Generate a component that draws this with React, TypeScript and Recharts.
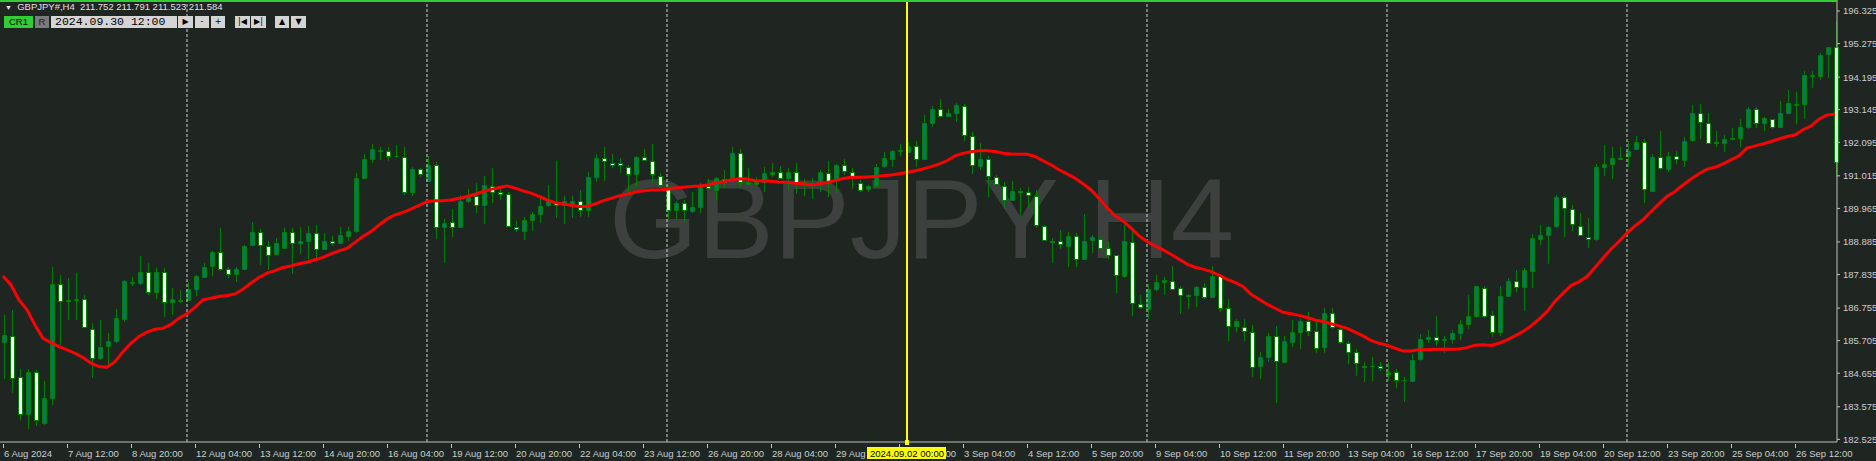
import React from "react";
import { ComposedChart, Bar, Line, XAxis, YAxis, ReferenceLine } from "recharts";

// GBPJPY H4, 6 Aug 2024 04:00 .. 27 Sep 2024 08:00
const tradingDays = [
  "6 Aug", "7 Aug", "8 Aug", "9 Aug", "12 Aug", "13 Aug", "14 Aug", "15 Aug", "16 Aug",
  "19 Aug", "20 Aug", "21 Aug", "22 Aug", "23 Aug", "26 Aug", "27 Aug", "28 Aug", "29 Aug", "30 Aug",
  "2 Sep", "3 Sep", "4 Sep", "5 Sep", "6 Sep", "9 Sep", "10 Sep", "11 Sep", "12 Sep", "13 Sep",
  "16 Sep", "17 Sep", "18 Sep", "19 Sep", "20 Sep", "23 Sep", "24 Sep", "25 Sep", "26 Sep", "27 Sep",
];
const barHours = ["00:00", "04:00", "08:00", "12:00", "16:00", "20:00"];

const open = [
  185.67, 185.87, 184.52, 183.34, 184.69, 183.04, 183.85, 187.54, 186.99, 187.02,
  187.04, 186.07, 185.14, 185.51, 185.68, 186.39, 187.59, 187.56, 187.91, 187.25,
  187.91, 186.93, 187.01, 187.02, 187.36, 187.77, 188.09, 188.55, 188.01, 187.84,
  188.01, 188.77, 189.2, 188.77, 188.49, 188.7, 189.2, 188.84, 188.9, 189.17,
  188.65, 188.92, 188.84, 189.09, 189.22, 190.94, 191.55, 191.82, 191.83, 191.64,
  191.62, 190.49, 191.23, 190.85, 191.35, 189.36, 189.52, 189.36, 190.19, 190.35,
  190.05, 190.69, 190.48, 190.42, 189.38, 189.24, 189.6, 189.78, 190.05, 190.15,
  190.07, 190.08, 190.19, 189.9, 190.97, 191.58, 191.44, 191.42, 191.31, 191.08,
  191.62, 191.48, 191.02, 190.62, 189.92, 190.13, 189.86, 190.03, 190.7, 190.56,
  190.92, 190.92, 191.74, 190.75, 190.75, 190.81, 191.1, 191.15, 190.97, 191.15,
  190.81, 190.72, 190.78, 191.12, 190.88, 191.35, 191.15, 190.8, 190.58, 190.69,
  191.31, 191.58, 191.82, 191.8, 191.99, 191.55, 192.71, 193.16, 192.93, 193.03,
  193.28, 192.31, 191.31, 191.55, 190.99, 190.7, 190.24, 190.54, 190.51, 190.38,
  189.41, 188.91, 188.9, 188.77, 189.09, 188.34, 188.93, 188.97, 188.68, 188.45,
  187.79, 188.87, 186.88, 186.72, 187.36, 187.59, 187.64, 187.39, 187.17, 187.16,
  187.43, 187.1, 187.79, 186.75, 186.18, 186.14, 186.0, 184.87, 185.17, 185.87,
  185.03, 185.65, 185.98, 186.34, 186.03, 185.51, 186.59, 186.07, 185.62, 185.33,
  184.9, 184.89, 184.9, 184.63, 184.69, 184.44, 184.42, 185.09, 185.75, 185.82,
  185.71, 185.75, 185.94, 186.23, 186.48, 187.39, 186.54, 185.98, 187.15, 187.63,
  187.43, 187.95, 188.97, 189.13, 189.38, 190.33, 189.95, 189.41, 189.06, 188.98,
  191.29, 191.39, 191.57, 191.67, 191.87, 192.09, 190.54, 191.62, 191.26, 191.64,
  191.55, 192.15, 193.03, 192.73, 192.11, 192.07, 192.2, 192.23, 192.58, 193.16,
  192.71, 192.84, 192.58, 193.03, 193.32, 193.33, 194.24, 194.24, 194.91, 195.15,
];
const high = [
  186.54, 186.7, 184.78, 184.78, 184.76, 184.42, 188.07, 187.82, 187.71, 187.88,
  187.16, 186.26, 186.37, 185.94, 186.72, 187.66, 187.74, 188.44, 188.22, 188.04,
  188.04, 187.39, 187.34, 187.61, 187.82, 188.22, 188.58, 189.33, 188.09, 188.09,
  188.79, 189.54, 189.3, 188.93, 189.01, 189.33, 189.33, 189.38, 189.4, 189.43,
  189.17, 189.08, 189.36, 189.38, 191.12, 191.71, 192.04, 191.96, 191.96, 192.01,
  191.93, 191.31, 191.28, 191.66, 191.45, 189.62, 189.94, 190.4, 190.58, 190.78,
  191.01, 191.26, 190.58, 190.48, 189.56, 189.7, 189.86, 190.35, 190.72, 191.5,
  190.35, 190.37, 190.56, 191.15, 191.71, 191.96, 191.71, 191.58, 191.37, 191.66,
  191.87, 192.03, 191.12, 190.72, 190.19, 190.24, 190.48, 190.8, 190.91, 190.99,
  191.21, 191.96, 191.88, 191.28, 190.99, 191.31, 191.42, 191.34, 191.28, 191.44,
  190.91, 190.94, 191.19, 191.5, 191.4, 191.55, 191.26, 190.88, 190.72, 191.4,
  191.77, 191.85, 192.03, 192.09, 192.15, 192.98, 193.27, 193.49, 193.16, 193.36,
  193.33, 192.42, 192.07, 191.64, 191.05, 190.83, 190.85, 190.62, 190.65, 190.56,
  189.44, 189.01, 189.27, 189.19, 189.17, 189.79, 189.11, 189.08, 188.87, 188.47,
  189.43, 189.3, 187.18, 187.53, 187.82, 187.77, 188.12, 187.45, 187.21, 187.45,
  187.56, 188.11, 187.86, 187.04, 186.39, 186.39, 186.21, 185.35, 185.94, 186.18,
  185.84, 186.37, 186.39, 186.64, 186.39, 186.75, 186.75, 186.1, 185.68, 185.44,
  185.03, 185.17, 185.03, 185.03, 184.78, 184.53, 185.27, 185.92, 186.05, 186.5,
  185.84, 186.05, 186.37, 187.18, 187.47, 187.45, 186.66, 187.45, 187.71, 187.99,
  188.04, 189.13, 189.43, 189.4, 190.4, 190.37, 190.06, 189.81, 189.65, 191.39,
  192.01, 191.96, 191.93, 192.14, 192.3, 192.19, 191.71, 192.46, 191.77, 191.83,
  192.26, 193.3, 193.33, 193.03, 192.46, 192.34, 192.55, 192.84, 193.23, 193.23,
  192.9, 192.86, 193.43, 193.78, 193.73, 194.38, 194.38, 194.97, 195.18, 195.99,
];
const low = [
  184.46, 184.02, 183.15, 182.85, 182.96, 182.99, 183.62, 185.57, 186.37, 186.37,
  186.1, 184.49, 185.09, 184.92, 185.64, 186.29, 187.45, 187.5, 187.18, 187.04,
  186.48, 186.54, 186.93, 186.97, 187.15, 187.74, 187.79, 187.96, 187.71, 187.58,
  187.98, 188.74, 188.15, 187.98, 188.47, 188.65, 187.86, 188.5, 188.33, 188.31,
  188.61, 188.74, 188.82, 188.9, 189.17, 190.91, 191.44, 191.51, 191.48, 191.58,
  190.4, 190.38, 190.99, 190.81, 188.97, 188.22, 189.04, 189.33, 190.15, 189.81,
  189.46, 190.15, 190.24, 189.38, 189.22, 188.95, 189.24, 189.51, 190.0, 189.65,
  189.47, 189.65, 189.7, 189.7, 190.83, 190.85, 191.28, 191.1, 190.46, 190.67,
  191.48, 190.78, 190.62, 189.62, 189.62, 189.52, 189.81, 189.83, 190.56, 190.24,
  190.62, 190.83, 190.67, 190.72, 190.69, 190.51, 190.99, 190.91, 190.56, 190.43,
  190.35, 190.26, 190.48, 190.33, 190.46, 191.05, 190.58, 190.48, 190.48, 190.67,
  191.26, 191.31, 191.64, 191.77, 191.31, 191.53, 192.58, 192.93, 192.9, 192.76,
  192.15, 191.07, 191.19, 190.33, 190.72, 189.94, 190.19, 189.7, 189.97, 189.33,
  188.93, 188.22, 188.65, 188.07, 188.09, 188.31, 188.54, 188.63, 188.33, 187.25,
  187.72, 186.51, 186.72, 186.4, 187.32, 187.18, 187.34, 186.56, 186.72, 186.8,
  187.04, 187.07, 186.64, 185.71, 185.99, 185.71, 184.53, 184.46, 185.03, 183.71,
  185.0, 185.49, 185.43, 185.84, 185.32, 185.3, 186.07, 185.6, 184.95, 184.57,
  184.36, 184.39, 184.74, 184.39, 184.17, 183.74, 184.39, 185.06, 185.64, 185.54,
  185.3, 185.6, 185.73, 186.07, 186.45, 186.45, 185.82, 185.86, 187.13, 187.28,
  186.67, 187.39, 188.79, 188.17, 189.35, 189.06, 189.25, 189.08, 188.68, 188.93,
  191.01, 190.91, 191.55, 191.31, 191.85, 190.13, 190.48, 191.19, 191.15, 191.4,
  191.31, 192.12, 192.2, 192.07, 191.96, 191.77, 192.17, 191.96, 192.52, 192.55,
  192.47, 192.52, 192.55, 193.0, 192.69, 192.85, 193.86, 194.09, 194.16, 190.99,
];
const close = [
  185.89, 184.53, 183.34, 184.69, 183.15, 183.85, 187.52, 186.99, 187.01, 187.04,
  186.13, 185.14, 185.51, 185.68, 186.43, 187.63, 187.61, 187.91, 187.25, 187.91,
  186.93, 187.04, 187.03, 187.36, 187.79, 188.09, 188.55, 188.01, 187.84, 188.01,
  188.74, 189.2, 188.77, 188.49, 188.84, 189.2, 188.84, 188.92, 189.17, 188.65,
  188.92, 188.87, 189.11, 189.24, 190.94, 191.55, 191.87, 191.86, 191.66, 191.65,
  190.49, 191.23, 191.08, 191.35, 189.36, 189.49, 189.36, 190.21, 190.32, 190.05,
  190.71, 190.51, 190.43, 189.4, 189.31, 189.6, 189.78, 190.03, 190.19, 190.07,
  190.19, 190.19, 189.9, 190.97, 191.58, 191.48, 191.39, 191.34, 191.08, 191.62,
  191.53, 191.05, 190.72, 189.92, 190.15, 189.89, 190.0, 190.67, 190.62, 190.94,
  190.81, 191.74, 190.81, 190.81, 190.83, 191.1, 191.15, 190.97, 191.15, 190.83,
  190.75, 190.78, 191.15, 190.81, 191.35, 191.17, 190.99, 190.58, 190.69, 191.31,
  191.58, 191.83, 191.84, 191.98, 191.58, 192.71, 193.16, 192.95, 193.03, 193.3,
  192.33, 191.37, 191.55, 190.99, 190.78, 190.24, 190.54, 190.52, 190.4, 189.44,
  188.95, 188.89, 188.79, 189.09, 188.34, 188.93, 189.04, 188.68, 188.47, 187.79,
  188.92, 186.91, 186.77, 187.36, 187.59, 187.66, 187.39, 187.15, 187.15, 187.43,
  187.1, 187.79, 186.75, 186.18, 186.34, 186.02, 184.87, 185.17, 185.86, 185.06,
  185.7, 185.98, 186.34, 186.03, 185.49, 186.59, 186.13, 185.64, 185.33, 184.96,
  184.88, 184.9, 184.82, 184.69, 184.44, 184.43, 185.09, 185.75, 185.82, 185.71,
  185.75, 185.94, 186.23, 186.5, 187.45, 186.5, 185.98, 187.15, 187.63, 187.43,
  187.99, 189.01, 189.11, 189.38, 190.33, 189.99, 189.47, 189.11, 189.01, 191.29,
  191.39, 191.58, 191.59, 191.83, 192.09, 190.56, 191.62, 191.26, 191.67, 191.55,
  192.15, 193.03, 192.74, 192.1, 192.09, 192.2, 192.23, 192.58, 193.16, 192.71,
  192.87, 192.58, 193.03, 193.36, 193.34, 194.25, 194.26, 194.91, 195.15, 191.45,
];
// red moving average as drawn on the chart
const ma = [
  187.79, 187.5, 187.02, 186.7, 186.21, 185.78, 185.64, 185.51, 185.41, 185.3,
  185.16, 184.98, 184.87, 184.85, 185.03, 185.35, 185.62, 185.84, 185.98, 186.07,
  186.1, 186.23, 186.43, 186.57, 186.78, 187.02, 187.07, 187.13, 187.16, 187.21,
  187.36, 187.56, 187.74, 187.88, 187.96, 188.06, 188.11, 188.18, 188.23, 188.31,
  188.39, 188.5, 188.6, 188.68, 188.87, 189.06, 189.22, 189.43, 189.62, 189.76,
  189.84, 189.94, 190.06, 190.19, 190.21, 190.21, 190.24, 190.29, 190.35, 190.42,
  190.51, 190.58, 190.64, 190.69, 190.62, 190.53, 190.46, 190.35, 190.24, 190.15,
  190.11, 190.07, 190.03, 190.03, 190.11, 190.21, 190.29, 190.37, 190.42, 190.49,
  190.53, 190.56, 190.56, 190.58, 190.62, 190.65, 190.67, 190.69, 190.72, 190.78,
  190.82, 190.88, 190.92, 190.91, 190.86, 190.85, 190.84, 190.82, 190.81, 190.78,
  190.76, 190.72, 190.76, 190.8, 190.86, 190.93, 190.97, 190.97, 190.98, 190.99,
  191.02, 191.04, 191.08, 191.12, 191.18, 191.24, 191.31, 191.39, 191.5, 191.66,
  191.74, 191.79, 191.82, 191.82, 191.8, 191.74, 191.72, 191.71, 191.71, 191.64,
  191.5, 191.37, 191.21, 191.08, 190.94, 190.76, 190.56, 190.29, 189.99, 189.73,
  189.56, 189.33, 189.08, 188.9, 188.76, 188.63, 188.49, 188.33, 188.17, 188.07,
  188.01, 187.93, 187.82, 187.68, 187.58, 187.45, 187.2, 187.04, 186.88, 186.75,
  186.62, 186.57, 186.52, 186.45, 186.37, 186.32, 186.25, 186.18, 186.1, 185.98,
  185.86, 185.71, 185.62, 185.56, 185.46, 185.37, 185.37, 185.41, 185.41, 185.43,
  185.43, 185.43, 185.44, 185.48, 185.56, 185.57, 185.55, 185.62, 185.73, 185.86,
  186.0, 186.18, 186.4, 186.64, 186.97, 187.23, 187.48, 187.6, 187.77, 188.06,
  188.36, 188.65, 188.9, 189.17, 189.4, 189.6, 189.86, 190.11, 190.35, 190.51,
  190.72, 190.91, 191.08, 191.23, 191.29, 191.4, 191.53, 191.66, 191.91, 191.98,
  192.04, 192.12, 192.2, 192.28, 192.33, 192.5, 192.62, 192.84, 192.98, 193.0,
];

const priceTicks = [
  196.325, 195.275, 194.195, 193.145, 192.095, 191.015, 189.965,
  188.885, 187.835, 186.755, 185.705, 184.655, 183.575, 182.525,
];
// one label every 8 bars
const timeTickLabels = [
  "6 Aug 2024", "7 Aug 12:00", "8 Aug 20:00", "12 Aug 04:00", "13 Aug 12:00", "14 Aug 20:00",
  "16 Aug 04:00", "19 Aug 12:00", "20 Aug 20:00", "22 Aug 04:00", "23 Aug 12:00", "26 Aug 20:00",
  "28 Aug 04:00", "29 Aug 12:00", "30 Aug 20:00", "3 Sep 04:00", "4 Sep 12:00", "5 Sep 20:00",
  "9 Sep 04:00", "10 Sep 12:00", "11 Sep 20:00", "13 Sep 04:00", "16 Sep 12:00", "17 Sep 20:00",
  "19 Sep 04:00", "20 Sep 12:00", "23 Sep 20:00", "25 Sep 04:00", "26 Sep 12:00",
];
const weekStarts = ["12 Aug 00:00", "19 Aug 00:00", "26 Aug 00:00", "9 Sep 00:00", "16 Sep 00:00", "23 Sep 00:00"];
const cursorTime = "2 Sep 00:00";
const cursorLabel = "2024.09.02 00:00";

const BG = "#1f2621";
const WICK = "#008000";
const BULL = "#00766c";
const AXIS_TXT = "#c9cdd0";
const FONT = "'Liberation Sans', Arial, sans-serif";

const allTimes = tradingDays.flatMap((d) => barHours.map((h) => `${d} ${h}`));
const times = allTimes.slice(1, 1 + open.length);

const data = times.map((t, i) => ({
  t,
  range: [low[i], high[i]],
  o: open[i],
  h: high[i],
  l: low[i],
  c: close[i],
  ma: ma[i],
}));

const tickLabelByTime = new Map<string, string>();
timeTickLabels.forEach((lab, k) => tickLabelByTime.set(times[k * 8], lab));
const xTicks = [...timeTickLabels.map((_, k) => times[k * 8])];
xTicks.splice(15, 0, cursorTime);

const Candle = (props: any) => {
  const { x, y, width, height, payload } = props;
  if (x == null || y == null || !payload) return null;
  const top = Math.min(y, y + height);
  const bot = Math.max(y, y + height);
  const span = payload.h - payload.l || 1;
  const py = (v: number) => top + ((payload.h - v) / span) * (bot - top);
  const cx = Math.round(x + width / 2) + 0.5;
  const yo = py(payload.o);
  const yc = py(payload.c);
  const bull = payload.c >= payload.o;
  const bTop = Math.round(Math.min(yo, yc)) + 0.5;
  const bH = Math.round(Math.abs(yo - yc));
  return (
    <g>
      <line x1={cx} x2={cx} y1={Math.round(top)} y2={Math.round(bot)} stroke={WICK} strokeWidth={1} />
      <path
        d={`M${cx - 2},${bTop}h4v${bH}h-4z`}
        fill={bull ? BULL : "#ffffff"}
        stroke={WICK}
        strokeWidth={1}
      />
    </g>
  );
};

const TimeTick = (props: any) => {
  const { x, y, payload } = props;
  const v = payload.value;
  if (v === cursorTime) {
    return (
      <g>
        <rect x={x - 2} y={y - 4} width={4} height={5} fill="#ffff00" />
        <rect x={x - 40} y={y + 3} width={79} height={12} fill="#ffff00" />
        <text x={x} y={y + 13} textAnchor="middle" fontSize={9.5} fontFamily={FONT} fill="#000">
          {cursorLabel}
        </text>
      </g>
    );
  }
  return (
    <g>
      <line x1={x + 0.5} x2={x + 0.5} y1={y} y2={y + 4} stroke="#c0c0c0" />
      <text x={x + 1} y={y + 13} textAnchor="start" fontSize={9.5} fontFamily={FONT} fill={AXIS_TXT}>
        {tickLabelByTime.get(v)}
      </text>
    </g>
  );
};

const btn: React.CSSProperties = {
  position: "absolute",
  top: 16,
  height: 12,
  background: "#d4d4d4",
  color: "#000",
  fontSize: 8,
  lineHeight: "12px",
  textAlign: "center",
  fontFamily: "'DejaVu Sans', sans-serif",
};

export default function App() {
  return (
    <div style={{ position: "relative", width: 1876, height: 461, background: BG, overflow: "hidden" }}>
      <style>{`body{margin:0;background:${BG}}`}</style>

      {/* watermark */}
      <div
        style={{
          position: "absolute",
          left: 609,
          top: 162,
          fontFamily: FONT,
          fontSize: 114,
          lineHeight: 1,
          color: "#3c403e",
          whiteSpace: "pre",
        }}
      >
        {"GBPJPY H4"}
      </div>

      <div style={{ position: "absolute", left: 0, top: 0 }}>
        <ComposedChart
          width={1876}
          height={461}
          data={data}
          margin={{ top: 0, right: 0, bottom: 0, left: -1 }}
        >
          <XAxis
            dataKey="t"
            ticks={xTicks}
            interval={0}
            height={19}
            tickSize={0}
            tickLine={false}
            tick={<TimeTick />}
            axisLine={{ stroke: "#c0c0c0" }}
            padding={{ left: 0, right: -2 }}
          />
          <YAxis
            orientation="right"
            type="number"
            domain={[182.44, 196.68]}
            allowDataOverflow
            ticks={priceTicks}
            interval={0}
            width={39}
            tickSize={3}
            tickMargin={3}
            tickFormatter={(v: number) => v.toFixed(3)}
            tick={{ fill: AXIS_TXT, fontSize: 9.5, fontFamily: FONT }}
            axisLine={{ stroke: "#c0c0c0" }}
            tickLine={{ stroke: "#c0c0c0" }}
          />
          {weekStarts.map((w) => (
            <ReferenceLine key={w} x={w} stroke="#d0d0d0" strokeDasharray="3 2" strokeWidth={1} />
          ))}
          <Bar dataKey="range" barSize={5} shape={<Candle />} isAnimationActive={false} />
          <Line
            dataKey="ma"
            type="linear"
            stroke="#ff0000"
            strokeWidth={3}
            dot={false}
            activeDot={false}
            isAnimationActive={false}
          />
          <ReferenceLine x={cursorTime} stroke="#ffff00" strokeWidth={2} />
        </ComposedChart>
      </div>

      {/* top frame line */}
      <div style={{ position: "absolute", left: 0, top: 0, width: 1837, height: 2, background: "#33cc33" }} />

      {/* header */}
      <div
        style={{
          position: "absolute",
          left: 5,
          top: 1,
          fontFamily: FONT,
          fontSize: 9.5,
          lineHeight: "11px",
          color: "#e0e0e0",
          whiteSpace: "pre",
        }}
      >
        <span style={{ fontSize: 7 }}>▼</span>
        {"  GBPJPY#,H4  211.752 211.791 211.523 211.584"}
      </div>
      <div style={{ ...btn, left: 4, width: 29, background: "#33cc33", fontFamily: FONT, fontSize: 9.5 }}>CR1</div>
      <div style={{ ...btn, left: 35, width: 14, background: "#7a7a7a", color: "#222", fontFamily: FONT, fontSize: 9.5 }}>
        R
      </div>
      <div
        style={{
          ...btn,
          left: 51,
          width: 126,
          textAlign: "left",
          paddingLeft: 4,
          boxSizing: "border-box",
          fontFamily: "'Liberation Mono', monospace",
          fontSize: 11.5,
        }}
      >
        2024.09.30 12:00
      </div>
      <div style={{ ...btn, left: 178, width: 15 }}>▶</div>
      <div style={{ ...btn, left: 195, width: 14 }}>-</div>
      <div style={{ ...btn, left: 211, width: 14 }}>+</div>
      <div style={{ ...btn, left: 235, width: 15 }}>|◀</div>
      <div style={{ ...btn, left: 251, width: 15 }}>▶|</div>
      <div style={{ ...btn, left: 275, width: 14 }}>▲</div>
      <div style={{ ...btn, left: 291, width: 15 }}>▼</div>
    </div>
  );
}
